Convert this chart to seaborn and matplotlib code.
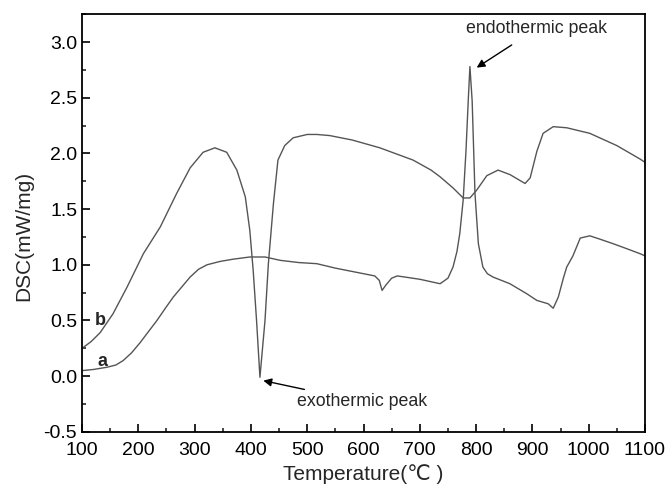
import numpy as np
import pandas as pd
import matplotlib
matplotlib.use('Agg')
import matplotlib.pyplot as plt
import seaborn as sns
from matplotlib.ticker import MultipleLocator

# ---- data ----
temp_a = [100, 120, 144, 160, 173, 188, 203, 218, 233, 248, 262, 277, 292, 307,
          322, 345, 368, 398, 425, 452, 485, 517, 550, 600, 620, 628, 633, 640,
          650, 660, 700, 736, 750, 759, 766, 771, 777, 782, 786, 789, 793, 798,
          804, 812, 820, 830, 860, 890, 908, 928, 937, 946, 955, 961, 972, 985,
          1002, 1020, 1043, 1070, 1091, 1100]
dsc_a = [0.05, 0.06, 0.08, 0.10, 0.14, 0.21, 0.30, 0.40, 0.50, 0.61, 0.71, 0.80,
         0.89, 0.96, 1.00, 1.03, 1.05, 1.07, 1.07, 1.04, 1.02, 1.01, 0.97, 0.92,
         0.90, 0.86, 0.77, 0.82, 0.88, 0.90, 0.87, 0.83, 0.88, 0.98, 1.12, 1.28,
         1.58, 2.02, 2.47, 2.78, 2.47, 1.64, 1.19, 0.98, 0.92, 0.89, 0.83, 0.74,
         0.68, 0.65, 0.61, 0.71, 0.88, 0.98, 1.08, 1.24, 1.26, 1.23, 1.19, 1.14,
         1.10, 1.08]

temp_b = [100, 116, 132, 155, 180, 209, 239, 268, 292, 315, 336, 357, 375, 390,
          398, 404, 410, 416, 425, 431, 440, 448, 460, 475, 500, 517, 540, 580,
          629, 688, 720, 736, 759, 777, 789, 801, 819, 839, 860, 887, 896, 908,
          919, 937, 961, 1002, 1050, 1091, 1100]
dsc_b = [0.25, 0.31, 0.39, 0.56, 0.80, 1.10, 1.34, 1.64, 1.87, 2.01, 2.05, 2.01,
         1.85, 1.61, 1.31, 0.95, 0.50, -0.01, 0.50, 1.01, 1.55, 1.94, 2.07, 2.14,
         2.17, 2.17, 2.16, 2.12, 2.05, 1.94, 1.85, 1.79, 1.69, 1.60, 1.60, 1.67,
         1.80, 1.85, 1.81, 1.73, 1.78, 2.02, 2.18, 2.24, 2.23, 2.18, 2.07, 1.95,
         1.92]

df = pd.concat([
    pd.DataFrame({'Temperature': temp_a, 'DSC': dsc_a, 'sample': 'a'}),
    pd.DataFrame({'Temperature': temp_b, 'DSC': dsc_b, 'sample': 'b'}),
])

sns.set_style('ticks')
plt.rcParams['font.family'] = ['Liberation Sans', 'DejaVu Sans']
plt.rcParams['axes.unicode_minus'] = False
plt.rcParams['xtick.direction'] = 'in'
plt.rcParams['ytick.direction'] = 'in'

fig = plt.figure(figsize=(6.67, 4.88), dpi=100)
ax = fig.add_axes([0.123, 0.115, 0.844, 0.856])

sns.lineplot(data=df, x='Temperature', y='DSC', units='sample', estimator=None,
             color='#555555', linewidth=1.0, ax=ax)

ax.set_xlim(100, 1100)
ax.set_ylim(-0.5, 3.25)
ax.xaxis.set_major_locator(MultipleLocator(100))
ax.xaxis.set_minor_locator(MultipleLocator(50))
ax.yaxis.set_major_locator(MultipleLocator(0.5))
ax.yaxis.set_minor_locator(MultipleLocator(0.25))
ax.tick_params(which='major', length=6, width=1.2, labelsize=14, colors='black')
ax.tick_params(axis='x', which='major', pad=7)
ax.tick_params(which='minor', length=3, width=1.2)
for s in ax.spines.values():
    s.set_linewidth(1.3)
    s.set_color('black')

ax.set_xlabel('Temperature(℃ )', fontsize=15, labelpad=4)
ax.set_ylabel('DSC(mW/mg)', fontsize=15)
ax.yaxis.set_label_coords(-0.087, 0.47)

ax.text(132, 0.50, 'b', fontsize=13, fontweight='bold', ha='center', va='center')
ax.text(137, 0.13, 'a', fontsize=13, fontweight='bold', ha='center', va='center')

ax.annotate('endothermic peak', xy=(801, 2.77), xytext=(908, 3.12),
            fontsize=12.8, ha='center', va='center',
            arrowprops=dict(arrowstyle='-|>', color='black', lw=1.0,
                            shrinkA=6, shrinkB=0, mutation_scale=12))
ax.annotate('exothermic peak', xy=(422, -0.04), xytext=(482, -0.23),
            fontsize=12.8, ha='left', va='center',
            arrowprops=dict(arrowstyle='-|>', color='black', lw=1.0,
                            shrinkA=2, shrinkB=0, mutation_scale=12))

fig.savefig('out.png', dpi=100)
